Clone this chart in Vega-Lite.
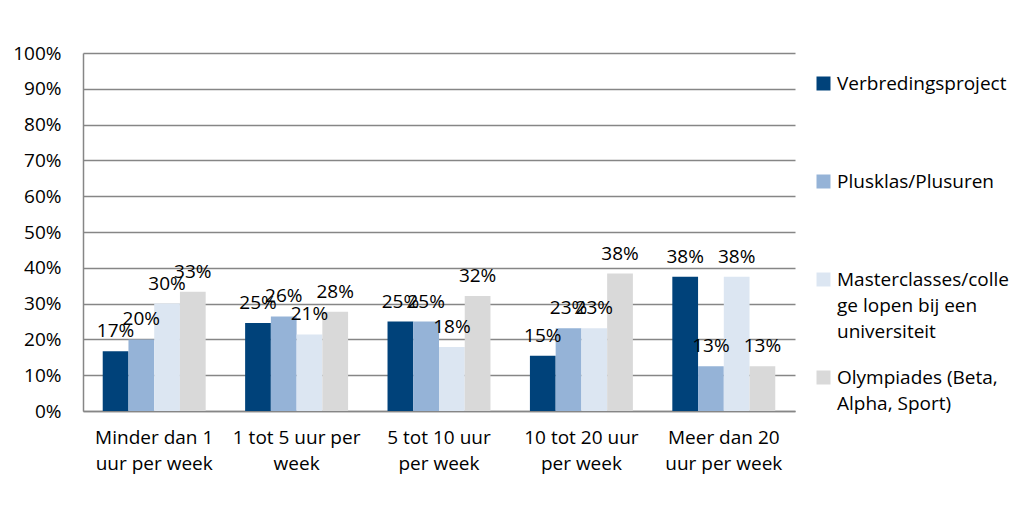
{
  "$schema": "https://vega.github.io/schema/vega-lite/v6.json",
  "width": 712,
  "height": 358,
  "autosize": {"type": "none"},
  "padding": {"left": 83, "top": 53, "right": 224, "bottom": 103},
  "background": "white",
  "config": {
    "view": {"stroke": null},
    "font": "Open Sans",
    "style": {"guide-label": {"lineHeight": 26}}
  },
  "data": {
    "values": [
      {"cat": "Minder dan 1 uur per week", "series": "Verbredingsproject", "value": 0.167},
      {"cat": "Minder dan 1 uur per week", "series": "Plusklas/Plusuren", "value": 0.2},
      {"cat": "Minder dan 1 uur per week", "series": "Masterclasses/college lopen bij een universiteit", "value": 0.3},
      {"cat": "Minder dan 1 uur per week", "series": "Olympiades (Beta, Alpha, Sport)", "value": 0.333},
      {"cat": "1 tot 5 uur per week", "series": "Verbredingsproject", "value": 0.246},
      {"cat": "1 tot 5 uur per week", "series": "Plusklas/Plusuren", "value": 0.264},
      {"cat": "1 tot 5 uur per week", "series": "Masterclasses/college lopen bij een universiteit", "value": 0.214},
      {"cat": "1 tot 5 uur per week", "series": "Olympiades (Beta, Alpha, Sport)", "value": 0.277},
      {"cat": "5 tot 10 uur per week", "series": "Verbredingsproject", "value": 0.25},
      {"cat": "5 tot 10 uur per week", "series": "Plusklas/Plusuren", "value": 0.25},
      {"cat": "5 tot 10 uur per week", "series": "Masterclasses/college lopen bij een universiteit", "value": 0.179},
      {"cat": "5 tot 10 uur per week", "series": "Olympiades (Beta, Alpha, Sport)", "value": 0.321},
      {"cat": "10 tot 20 uur per week", "series": "Verbredingsproject", "value": 0.154},
      {"cat": "10 tot 20 uur per week", "series": "Plusklas/Plusuren", "value": 0.231},
      {"cat": "10 tot 20 uur per week", "series": "Masterclasses/college lopen bij een universiteit", "value": 0.231},
      {"cat": "10 tot 20 uur per week", "series": "Olympiades (Beta, Alpha, Sport)", "value": 0.384},
      {"cat": "Meer dan 20 uur per week", "series": "Verbredingsproject", "value": 0.375},
      {"cat": "Meer dan 20 uur per week", "series": "Plusklas/Plusuren", "value": 0.125},
      {"cat": "Meer dan 20 uur per week", "series": "Masterclasses/college lopen bij een universiteit", "value": 0.375},
      {"cat": "Meer dan 20 uur per week", "series": "Olympiades (Beta, Alpha, Sport)", "value": 0.125}
    ]
  },
  "encoding": {
    "x": {
      "field": "cat",
      "type": "nominal",
      "sort": ["Minder dan 1 uur per week", "1 tot 5 uur per week", "5 tot 10 uur per week", "10 tot 20 uur per week", "Meer dan 20 uur per week"],
      "scale": {"paddingInner": 0.277, "paddingOuter": 0.1385},
      "axis": {
        "title": null,
        "labelAngle": 0,
        "labelFontSize": 19,
        "labelColor": "#000000",
        "labelPadding": 17,
        "labelBaseline": "top",
        "labelLineHeight": 26,
        "labelLimit": 0,
        "ticks": false,
        "domainColor": "#868686",
        "domainWidth": 1.5,
        "labelExpr": "datum.value == 'Minder dan 1 uur per week' ? ['Minder dan 1', 'uur per week'] : datum.value == '1 tot 5 uur per week' ? ['1 tot 5 uur per', 'week'] : datum.value == '5 tot 10 uur per week' ? ['5 tot 10 uur', 'per week'] : datum.value == '10 tot 20 uur per week' ? ['10 tot 20 uur', 'per week'] : ['Meer dan 20', 'uur per week']"
      }
    },
    "xOffset": {
      "field": "series",
      "type": "nominal",
      "sort": ["Verbredingsproject", "Plusklas/Plusuren", "Masterclasses/college lopen bij een universiteit", "Olympiades (Beta, Alpha, Sport)"],
      "scale": {"paddingInner": 0, "paddingOuter": 0}
    },
    "y": {
      "field": "value",
      "type": "quantitative",
      "scale": {"domain": [0, 1]},
      "axis": {
        "title": null,
        "values": [0, 0.1, 0.2, 0.3, 0.4, 0.5, 0.6, 0.7, 0.8, 0.9, 1],
        "format": ".0%",
        "labelFontSize": 19,
        "labelColor": "#000000",
        "labelPadding": 22,
        "ticks": false,
        "grid": true,
        "gridColor": "#868686",
        "gridWidth": 1.5,
        "domainColor": "#868686",
        "domainWidth": 1.5
      }
    }
  },
  "layer": [
    {
      "mark": {"type": "bar"},
      "encoding": {
        "color": {
          "field": "series",
          "type": "nominal",
          "sort": ["Verbredingsproject", "Plusklas/Plusuren", "Masterclasses/college lopen bij een universiteit", "Olympiades (Beta, Alpha, Sport)"],
          "scale": {
            "domain": ["Verbredingsproject", "Plusklas/Plusuren", "Masterclasses/college lopen bij een universiteit", "Olympiades (Beta, Alpha, Sport)"],
            "range": ["#00427a", "#95b3d7", "#dce6f2", "#d9d9d9"]
          },
          "legend": {
            "title": null,
            "orient": "none",
            "legendX": 731,
            "legendY": 21,
            "symbolType": "square",
            "symbolSize": 196,
            "symbolStrokeWidth": 0,
            "labelFontSize": 19,
            "labelColor": "#000000",
            "labelOffset": 4,
            "labelLimit": 0,
            "labelBaseline": "middle",
            "gridAlign": "all",
            "rowPadding": 26,
            "labelExpr": "datum.value == 'Masterclasses/college lopen bij een universiteit' ? ['Masterclasses/colle', 'ge lopen bij een', 'universiteit'] : datum.value == 'Olympiades (Beta, Alpha, Sport)' ? ['Olympiades (Beta,', 'Alpha, Sport)'] : datum.value"
          }
        }
      }
    },
    {
      "mark": {"type": "text", "baseline": "alphabetic", "dy": -14, "fontSize": 19, "color": "#000000"},
      "encoding": {
        "text": {"field": "value", "type": "quantitative", "format": ".0%"}
      }
    }
  ]
}
